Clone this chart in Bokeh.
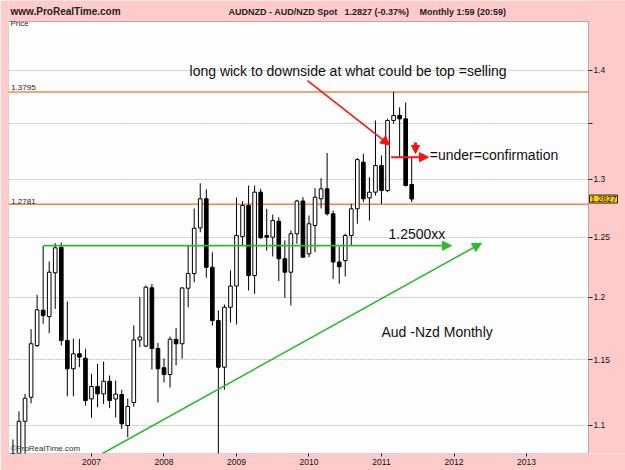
from bokeh.plotting import figure
from bokeh.models import (Range1d, FixedTicker, CustomJSTickFormatter, Label,
                          Arrow, NormalHead, ColumnDataSource, LogAxis, Grid, BoxAnnotation)
from bokeh.embed import file_html
from bokeh.resources import INLINE

# ---------------- data (monthly AUD/NZD candles) ----------------
months = ["2005-12", "2006-01", "2006-02", "2006-03", "2006-04", "2006-05", "2006-06",
          "2006-07", "2006-08", "2006-09", "2006-10", "2006-11", "2006-12",
          "2007-01", "2007-02", "2007-03", "2007-04", "2007-05", "2007-06",
          "2007-07", "2007-08", "2007-09", "2007-10", "2007-11", "2007-12",
          "2008-01", "2008-02", "2008-03", "2008-04", "2008-05", "2008-06",
          "2008-07", "2008-08", "2008-09", "2008-10", "2008-11", "2008-12",
          "2009-01", "2009-02", "2009-03", "2009-04", "2009-05", "2009-06",
          "2009-07", "2009-08", "2009-09", "2009-10", "2009-11", "2009-12",
          "2010-01", "2010-02", "2010-03", "2010-04", "2010-05", "2010-06",
          "2010-07", "2010-08", "2010-09", "2010-10", "2010-11", "2010-12",
          "2011-01", "2011-02", "2011-03", "2011-04", "2011-05", "2011-06"]
opens = [1.0770, 1.0720, 1.1030, 1.1211, 1.1612, 1.1894, 1.1843,
         1.2200, 1.2414, 1.1652, 1.1430, 1.1547, 1.1512,
         1.1199, 1.1293, 1.1237, 1.1334, 1.1198, 1.1232,
         1.0998, 1.1171, 1.1656, 1.1608, 1.2076, 1.1589,
         1.1438, 1.1386, 1.1660, 1.1626, 1.2073, 1.2194,
         1.2578, 1.2829, 1.2246, 1.1811, 1.1442, 1.1918,
         1.2091, 1.2505, 1.2771, 1.2178, 1.2887, 1.2513,
         1.2499, 1.2635, 1.2317, 1.2205, 1.2528, 1.2810,
         1.2358, 1.2598, 1.2829, 1.2916, 1.2699, 1.2290,
         1.2302, 1.2513, 1.2742, 1.3152, 1.2837, 1.2887,
         1.3122, 1.2901, 1.3530, 1.3576, 1.3545, 1.2954]
highs = [1.0894, 1.1105, 1.1237, 1.1742, 1.2019, 1.2426, 1.2294,
         1.2448, 1.2454, 1.1965, 1.1665, 1.1665, 1.1586,
         1.1391, 1.1468, 1.1486, 1.1378, 1.1339, 1.1268,
         1.1201, 1.1771, 1.2000, 1.2095, 1.2109, 1.1632,
         1.1510, 1.1684, 1.1751, 1.2081, 1.2428, 1.2745,
         1.2965, 1.2912, 1.2372, 1.1892, 1.1940, 1.2219,
         1.2838, 1.2808, 1.2945, 1.2945, 1.2916, 1.2742,
         1.2692, 1.2669, 1.2471, 1.2556, 1.2820, 1.2843,
         1.2684, 1.2922, 1.3010, 1.3235, 1.2727, 1.2420,
         1.2530, 1.2785, 1.3190, 1.3227, 1.3018, 1.3530,
         1.3212, 1.3545, 1.3795, 1.3652, 1.3696, 1.3197]
lows = [1.0650, 1.0700, 1.0750, 1.1166, 1.1599, 1.1785, 1.1710,
        1.1905, 1.1612, 1.1219, 1.1219, 1.1442, 1.1148,
        1.1056, 1.1136, 1.1160, 1.1128, 1.1058, 1.0973,
        1.0911, 1.1139, 1.1599, 1.1599, 1.1424, 1.1171,
        1.1324, 1.1285, 1.1456, 1.1508, 1.1918, 1.2122,
        1.2541, 1.2159, 1.1771, 1.0600, 1.1268, 1.1795,
        1.1779, 1.2428, 1.2054, 1.2027, 1.2485, 1.2386,
        1.2336, 1.2131, 1.1995, 1.1932, 1.2443, 1.2325,
        1.2330, 1.2372, 1.2745, 1.2684, 1.2150, 1.2110,
        1.2170, 1.2428, 1.2613, 1.2799, 1.2641, 1.2858,
        1.2785, 1.2887, 1.3500, 1.3197, 1.2937, 1.2800]
closes = [1.0720, 1.1030, 1.1204, 1.1626, 1.1897, 1.1851, 1.2205,
          1.2409, 1.1652, 1.1430, 1.1547, 1.1521, 1.1186,
          1.1293, 1.1237, 1.1334, 1.1186, 1.1236, 1.1011,
          1.1141, 1.1656, 1.1679, 1.2081, 1.1589, 1.1430,
          1.1386, 1.1662, 1.1626, 1.2075, 1.2194, 1.2575,
          1.2829, 1.2246, 1.1811, 1.1442, 1.1918, 1.2091,
          1.2513, 1.2771, 1.2178, 1.2887, 1.2494, 1.2499,
          1.2641, 1.2317, 1.2205, 1.2528, 1.2810, 1.2330,
          1.2613, 1.2843, 1.2916, 1.2699, 1.2290, 1.2250,
          1.2513, 1.2742, 1.3175, 1.2829, 1.2887, 1.3122,
          1.2901, 1.3530, 1.3576, 1.3545, 1.2945, 1.2827]

year_ticks = [2007, 2008, 2009, 2010, 2011, 2012, 2013]
price_ticks = [1.1, 1.15, 1.2, 1.25, 1.3, 1.35, 1.4]
levels = [1.3795, 1.2781]
level_labels = ["1.3795", "1.2781"]
green_level = 1.2427
last_price = 1.2827

# chart box (inner frame drawn by us) in data units
X0, X1 = 2005.8552, 2013.8552     # chart area left / right
Y0, Y1 = 1.07909, 1.44710         # chart area bottom / top

# ---------------- figure ----------------
t = [int(m[:4]) + (int(m[5:]) - 1) / 12.0 for m in months]

PINK = "#FFCACA"
p = figure(width=625, height=470, output_backend="svg", toolbar_location=None,
           y_axis_type="log", y_axis_location=None,
           x_range=Range1d(X0, 2014.3655), y_range=Range1d(Y0, 1.467886),
           min_border_left=8, min_border_right=0, min_border_top=0, min_border_bottom=17)

p.border_fill_color = PINK
p.background_fill_color = "#FCFDFC"
p.outline_line_color = None

# x axis (below)
p.xaxis.ticker = FixedTicker(ticks=year_ticks)
p.xaxis.formatter = CustomJSTickFormatter(code="return tick.toFixed(0);")
p.xaxis.axis_line_color = None
p.xaxis.major_tick_line_color = "#222222"
p.xaxis.major_tick_in = 0
p.xaxis.major_tick_out = 3
p.xaxis.minor_tick_line_color = None
p.xaxis.major_label_standoff = 2
p.xaxis.major_label_text_font = "Liberation Sans"
p.xaxis.major_label_text_font_size = "8.5px"
p.xaxis.major_label_text_color = "#111111"
p.xgrid.visible = False

# grid, then pink margins (both underlay, margins cover the grid)
p.add_layout(Grid(dimension=1, ticker=FixedTicker(ticks=price_ticks),
                  grid_line_color="#C8C8C8", grid_line_dash="2 2"))
p.add_layout(BoxAnnotation(left=X0 - 1, right=2015, bottom=Y1, top=2.0, level="underlay",
                           fill_color=PINK, fill_alpha=1, line_color=None))
p.add_layout(BoxAnnotation(left=X1, right=2015, bottom=1.0, top=2.0, level="underlay",
                           fill_color=PINK, fill_alpha=1, line_color=None))

# price axis, drawn at the right edge of the chart box
yax = LogAxis(ticker=FixedTicker(ticks=price_ticks), fixed_location=X1,
              formatter=CustomJSTickFormatter(
                  code="if (Math.abs(tick - 1.35) < 1e-6) { return ''; } return String(Number(tick.toFixed(2)));"))
yax.axis_line_color = None
yax.major_tick_line_color = "#222222"
yax.major_tick_in = 0
yax.major_tick_out = 4
yax.minor_tick_line_color = None
yax.major_label_standoff = 1
yax.major_label_text_font = "Liberation Sans"
yax.major_label_text_font_size = "8.5px"
yax.major_label_text_color = "#111111"
p.add_layout(yax, "right")

# orange levels (from the chart's left edge to its right edge)
p.segment(x0=[X0] * len(levels), y0=levels, x1=[X1] * len(levels), y1=levels,
          line_color="#FF8040", line_width=1.6)
for lab, y in zip(level_labels, [1.3810, 1.2788]):
    p.add_layout(Label(x=2005.8924, y=y, text=lab, text_font="Liberation Sans",
                       text_font_size="8px", text_color="#222222"))

# candles
up = [c >= o for o, c in zip(opens, closes)]
src_all = ColumnDataSource(dict(t=t, h=highs, l=lows))
p.segment(x0="t", y0="l", x1="t", y1="h", source=src_all, line_color="black", line_width=1)

w_src = ColumnDataSource(dict(
    t=[x for x, u in zip(t, up) if u],
    o=[v for v, u in zip(opens, up) if u],
    c=[v for v, u in zip(closes, up) if u]))
b_src = ColumnDataSource(dict(
    t=[x for x, u in zip(t, up) if not u],
    o=[v for v, u in zip(opens, up) if not u],
    c=[v for v, u in zip(closes, up) if not u]))
p.vbar(x="t", width=0.05, bottom="o", top="c", source=w_src,
       fill_color="white", line_color="black", line_width=1)
p.vbar(x="t", width=0.05, bottom="o", top="c", source=b_src,
       fill_color="black", line_color="black", line_width=1)

# green lines
GREEN = "#2DBA2D"
p.add_layout(Arrow(x_start=2006.338, y_start=green_level, x_end=2011.966, y_end=green_level,
                   line_color=GREEN, line_width=1.6,
                   end=NormalHead(size=9, fill_color=GREEN, line_color=GREEN)))
p.add_layout(Arrow(x_start=2007.152, y_start=Y0, x_end=2012.379, y_end=1.2448,
                   line_color=GREEN, line_width=1.6,
                   end=NormalHead(size=9, fill_color=GREEN, line_color=GREEN)))

# red annotations
RED = "#FF1010"
p.add_layout(Arrow(x_start=2009.979, y_start=1.3902, x_end=2011.114, y_end=1.3306,
                   line_color=RED, line_width=1.5,
                   end=NormalHead(size=9, fill_color=RED, line_color=RED)))
p.add_layout(Arrow(x_start=2011.134, y_start=1.3197, x_end=2011.648, y_end=1.3197,
                   line_color=RED, line_width=2,
                   end=NormalHead(size=9, fill_color=RED, line_color=RED)))
p.add_layout(Arrow(x_start=2011.469, y_start=1.3329, x_end=2011.469, y_end=1.3230,
                   line_color=RED, line_width=3,
                   end=NormalHead(size=8, fill_color=RED, line_color=RED)))

# annotation texts
for txt, x, y in [("long wick to downside at what could be top =selling", 2008.352, 1.3921),
                  ("=under=confirmation", 2011.666, 1.3149),
                  ("1.2500xx", 2011.097, 1.2456),
                  ("Aud -Nzd Monthly", 2011.0, 1.1652)]:
    p.add_layout(Label(x=x, y=y, text=txt, text_font="Liberation Sans",
                       text_font_size="14px", text_color="#111111"))

p.add_layout(Label(x=2005.8828, y=1.4407, text="Price", text_font="Liberation Sans",
                   text_font_size="8px", text_color="#333333"))
p.add_layout(Label(x=2005.8828, y=1.0798, text="\u00a9ProRealTime.com", text_font="Liberation Sans",
                   text_font_size="8px", text_color="#333333"))

# chart box outline
p.add_layout(BoxAnnotation(left=X0, right=X1, bottom=Y0, top=Y1,
                           fill_alpha=0, line_color="#222222", line_width=1))

# header
p.add_layout(Label(x=2005.8828, y=1.4520, text="www.ProRealTime.com", text_font="Liberation Sans",
                   text_font_size="10px", text_font_style="bold", text_color="#222222"))
for txt, x in [("AUDNZD - AUD/NZD Spot", 2008.8897),
               ("1.2827 (-0.37%)", 2010.4897),
               ("Monthly  1:59 (20:59)", 2011.5241)]:
    p.add_layout(Label(x=x, y=1.4520, text=txt, text_font="Liberation Sans",
                       text_font_size="9px", text_font_style="bold", text_color="#222222"))

# last price box
p.add_layout(Label(x=2013.869, y=last_price, text="1.2827", text_font="Liberation Sans",
                   text_font_size="8.5px", text_baseline="middle", text_color="#111111",
                   background_fill_color="#FFCC00", border_line_color="#222222",
                   padding=1))

open("out.html", "w").write(file_html(p, INLINE, "AUDNZD"))
